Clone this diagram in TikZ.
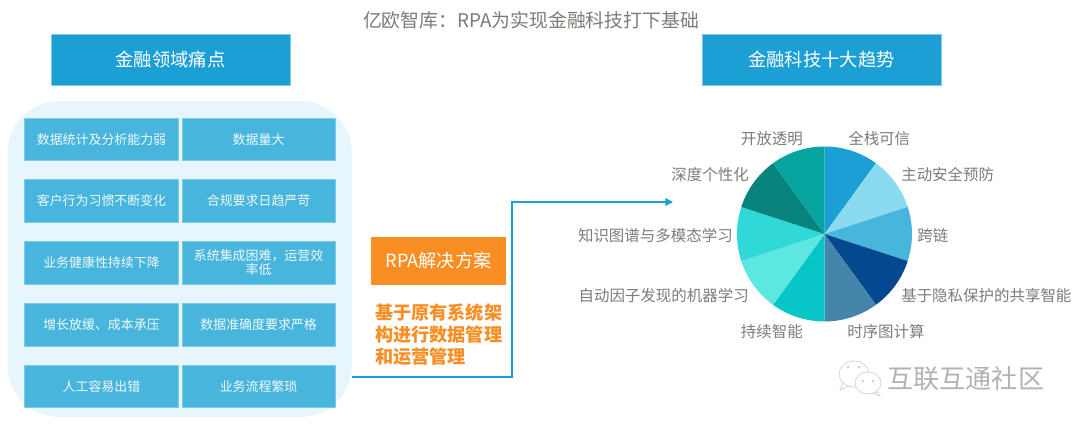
\documentclass[tikz,border=0pt]{standalone}
\usepackage{xcolor}
\usepackage{fontspec}
\setmainfont{Noto Sans CJK SC}
\usetikzlibrary{arrows.meta}
\definecolor{headblue}{HTML}{1C9FD4}
\definecolor{cellblue}{HTML}{48B5DC}
\definecolor{panelblue}{HTML}{E6F6FC}
\definecolor{rpaorange}{HTML}{F88E24}
\definecolor{labelgray}{HTML}{7F7A76}
\tikzset{
	headbox/.style={fill=headblue, draw=cellblue!70, line width=0.4pt, text=white, minimum width=5.97cm, minimum height=1.28cm, font=\fontsize{13}{15}\selectfont, inner sep=0pt},
	cellbox/.style={fill=cellblue, draw=cellblue!70, line width=0.4pt, text=white!92!cellblue, minimum height=1.07cm, font=\fontsize{9.2}{11.5}\selectfont, inner sep=1pt, align=center, text width=3.6cm},
	leftcell/.style={cellbox, minimum width=3.85cm},
	rightcell/.style={cellbox, minimum width=3.82cm},
	pielabel/.style={text=labelgray, font=\fontsize{11}{13}\selectfont, inner sep=0pt},
	bubble/.style={fill=white, draw=gray!35, line width=0.5pt}
}
\begin{document}
\begin{tikzpicture}[x=0.025cm, y=-0.025cm]
	\useasboundingbox (0,0) rectangle (1080,427);
	% title
	\node[text=labelgray, font=\fontsize{13.4}{15}\selectfont, inner sep=0pt] (title) at (531,20) {亿欧智库：RPA为实现金融科技打下基础};
	\node[headbox] (painhead) at (170.5,59.5) {金融领域痛点};
	\node[headbox] (trendhead) at (821.5,59.5) {金融科技十大趋势};
	% left panel
	\fill[panelblue, rounded corners=1.3cm] (7.5,101) rectangle (352,417);
	\coordinate (panelout) at (352,377);
	\node[leftcell] (c11) at (101.5,139.2) {数据统计及分析能力弱};
	\node[rightcell] (c12) at (258.6,139.2) {数据量大};
	\node[leftcell] (c21) at (101.5,200.8) {客户行为习惯不断变化};
	\node[rightcell] (c22) at (258.6,200.8) {合规要求日趋严苛};
	\node[leftcell] (c31) at (101.5,262.5) {业务健康性持续下降};
	\node[rightcell] (c32) at (258.6,262.5) {系统集成困难，运营效\\[-1pt]率低};
	\node[leftcell] (c41) at (101.5,324.7) {增长放缓、成本承压};
	\node[rightcell] (c42) at (258.6,324.7) {数据准确度要求严格};
	\node[leftcell] (c51) at (101.5,386.2) {人工容易出错};
	\node[rightcell] (c52) at (258.6,386.2) {业务流程繁琐};
	% solution
	\node[fill=rpaorange, text=white, minimum width=3.375cm, minimum height=1.18cm, inner sep=0pt, font=\fontsize{12.9}{15}\selectfont] (rpa) at (438.5,261) {RPA解决方案};
	\node[text=rpaorange, font=\fontsize{12.9}{15.6}\selectfont\bfseries, align=left, inner sep=0pt, anchor=west] (rpatext) at (375,334.5) {基于原有系统架\\构进行数据管理\\和运营管理};
	\coordinate (arrowend) at (673,202);
	\draw[-{Triangle[length=5.5pt,width=5.5pt]}, headblue, line width=0.9pt] (panelout) -- (512,377) -- (512,202) -- (arrowend);
	% pie
	\foreach \n/\c in {0/1C9FD4,1/8ADBF0,2/48B5DC,3/04498F,4/4584AB,5/08C5C8,6/5CE8E0,7/30D9D8,8/08837E,9/08A5A0}
		{\definecolor{slice}{HTML}{\c}
		\fill[slice] (824.5,234) -- ({824.5+87.5*sin(\n*36)},{234-87.5*cos(\n*36)}) arc[start angle={\n*36-90}, delta angle=36, radius=87.5] -- cycle;}
	\node[pielabel, anchor=west] (l1) at (848,139) {全栈可信};
	\node[pielabel, anchor=west] (l2) at (901,175) {主动安全预防};
	\node[pielabel, anchor=west] (l3) at (917,236) {跨链};
	\node[pielabel, anchor=west] (l4) at (901,296) {基于隐私保护的共享智能};
	\node[pielabel, anchor=west] (l5) at (847,332) {时序图计算};
	\node[pielabel, anchor=east] (l6) at (803,332) {持续智能};
	\node[pielabel, anchor=east] (l7) at (749,296) {自动因子发现的机器学习};
	\node[pielabel, anchor=east] (l8) at (733,236) {知识图谱与多模态学习};
	\node[pielabel, anchor=east] (l9) at (749,175) {深度个性化};
	\node[pielabel, anchor=east] (l10) at (803,139) {开放透明};
	% watermark
	\draw[bubble] (844,381) -- (840,390) -- (851,385) -- cycle;
	\draw[bubble] (854,374) ellipse[x radius=15, y radius=13];
	\draw[bubble] (877,392) -- (880,396) -- (872,393) -- cycle;
	\draw[bubble] (868,383) ellipse[x radius=13, y radius=11];
	\foreach \x/\y in {848/367,859/367,863/381,873/381}
		\fill[gray!40] (\x,\y) circle[radius=1.3];
	\node[text=gray!60, font=\fontsize{18.6}{20}\selectfont, inner sep=0pt, anchor=west] (mark) at (887,379) {互联互通社区};
\end{tikzpicture}
\end{document}
